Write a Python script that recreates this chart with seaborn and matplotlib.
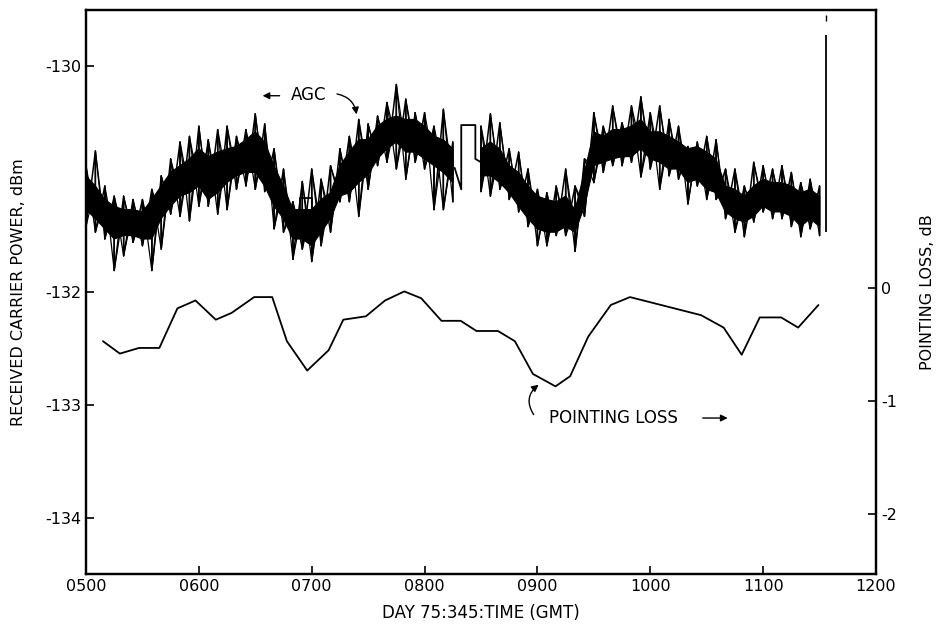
import numpy as np
import matplotlib
matplotlib.use("Agg")
import matplotlib.pyplot as plt
import seaborn as sns

# AGC trace, read every 5 minutes after 0500 GMT (dBm)
agc_minutes = np.arange(0, 395, 5)
agc_top = [-130.88, -130.75, -131.06, -131.15, -131.15, -131.18, -131.18, -131.09, -130.97, -130.82,
           -130.67, -130.62, -130.53, -130.65, -130.56, -130.53, -130.62, -130.56, -130.42, -130.51,
           -130.73, -130.91, -131.20, -131.02, -130.91, -131.00, -130.88, -130.73, -130.62, -130.47,
           -130.51, -130.44, -130.32, -130.16, -130.29, -130.41, -130.41, -130.53, -130.38, -130.67,
           np.nan, np.nan, -130.53, -130.42, -130.50, -130.73, -130.76, -130.91, -131.09, -131.12,
           -131.06, -130.91, -131.06, -130.82, -130.41, -130.53, -130.35, -130.50, -130.35, -130.27,
           -130.41, -130.35, -130.47, -130.53, -130.71, -130.67, -130.62, -130.65, -130.91, -130.91,
           -131.06, -130.85, -130.88, -130.91, -130.88, -130.94, -131.03, -131.00, -131.06]
agc_core_hi = [-130.97, -131.06, -131.18, -131.24, -131.27, -131.27, -131.29, -131.18, -131.06, -130.94,
               -130.88, -130.82, -130.73, -130.80, -130.76, -130.73, -130.71, -130.65, -130.58, -130.67,
               -130.88, -131.06, -131.27, -131.27, -131.27, -131.18, -131.12, -130.88, -130.76, -130.65,
               -130.65, -130.53, -130.47, -130.44, -130.47, -130.47, -130.53, -130.62, -130.65, -130.73,
               np.nan, np.nan, -130.73, -130.67, -130.73, -130.88, -130.94, -131.06, -131.15, -131.18,
               -131.20, -131.15, -131.27, -130.94, -130.58, -130.62, -130.56, -130.56, -130.53, -130.47,
               -130.58, -130.58, -130.62, -130.67, -130.73, -130.71, -130.76, -130.82, -131.06, -131.09,
               -131.15, -131.06, -131.00, -131.03, -131.03, -131.06, -131.12, -131.09, -131.15]
agc_core_lo = [-131.27, -131.35, -131.44, -131.53, -131.50, -131.50, -131.53, -131.53, -131.35, -131.24,
               -131.15, -131.12, -131.06, -131.18, -131.12, -131.03, -130.97, -130.94, -130.94, -131.06,
               -131.24, -131.35, -131.53, -131.53, -131.59, -131.47, -131.35, -131.15, -131.12, -131.03,
               -130.96, -130.82, -130.73, -130.67, -130.76, -130.76, -130.82, -130.88, -130.94, -131.03,
               np.nan, np.nan, -130.97, -130.97, -131.03, -131.12, -131.24, -131.35, -131.44, -131.47,
               -131.47, -131.42, -131.47, -131.24, -130.88, -130.85, -130.82, -130.80, -130.80, -130.73,
               -130.82, -130.85, -130.91, -130.91, -131.03, -131.00, -131.09, -131.12, -131.29, -131.35,
               -131.38, -131.33, -131.24, -131.29, -131.29, -131.33, -131.42, -131.35, -131.42]
agc_bottom = [-131.42, -131.47, -131.53, -131.81, -131.68, -131.56, -131.59, -131.81, -131.62, -131.31,
              -131.33, -131.37, -131.24, -131.24, -131.31, -131.27, -131.09, -131.06, -131.09, -131.11,
              -131.44, -131.47, -131.71, -131.62, -131.73, -131.59, -131.47, -131.20, -131.20, -131.33,
              -131.09, -130.88, -130.85, -130.91, -131.00, -130.85, -130.91, -131.27, -131.27, -131.20,
              np.nan, np.nan, -131.11, -131.15, -131.09, -131.18, -131.29, -131.42, -131.59, -131.59,
              -131.50, -131.50, -131.64, -131.33, -131.03, -130.94, -130.88, -130.88, -130.85, -130.98,
              -130.91, -131.09, -130.97, -131.00, -131.22, -131.06, -131.18, -131.18, -131.35, -131.47,
              -131.51, -131.38, -131.29, -131.35, -131.35, -131.42, -131.51, -131.44, -131.50]

# flat pieces and the end spike of the AGC record
agc_flat1_minutes = [114, 114, 120, 120]
agc_flat1_dbm = [-131.40, -131.17, -131.17, -131.40]
agc_flat2_minutes = [196, 199.5, 199.5, 207, 207, 210]
agc_flat2_dbm = [-130.90, -131.09, -130.52, -130.52, -130.82, -130.85]
agc_end_minutes = 393.5
agc_end_dbm = [-131.47, -129.72]

# pointing loss (dB), time in hours GMT
loss_hours = [5.15, 5.30, 5.47, 5.65, 5.81, 5.97, 6.15, 6.29, 6.49, 6.65, 6.78, 6.96,
              7.15, 7.28, 7.48, 7.65, 7.82, 7.97, 8.15, 8.32, 8.46, 8.65, 8.80, 8.96,
              9.16, 9.29, 9.45, 9.65, 9.82, 10.45, 10.65, 10.81, 10.97, 11.16, 11.31, 11.49]
loss_db = [-0.47, -0.58, -0.53, -0.53, -0.18, -0.11, -0.28, -0.22, -0.08, -0.08, -0.47, -0.73,
           -0.55, -0.28, -0.25, -0.11, -0.03, -0.09, -0.29, -0.29, -0.38, -0.38, -0.47, -0.76,
           -0.87, -0.78, -0.43, -0.15, -0.08, -0.24, -0.35, -0.59, -0.26, -0.26, -0.35, -0.15]

x_ticks = [5, 6, 7, 8, 9, 10, 11, 12]
x_ticklabels = ["0500", "0600", "0700", "0800", "0900", "1000", "1100", "1200"]
left_ticks = [-130, -132, -133, -134]
right_ticks = [0, -1, -2]

sns.set_style("ticks")
plt.rcParams["font.family"] = ["DejaVu Sans"]
plt.rcParams["text.color"] = "black"
plt.rcParams["axes.labelcolor"] = "black"

fig = plt.figure(figsize=(9.41, 6.24), dpi=100)
ax = fig.add_axes([86 / 941, 1 - 574 / 624, 790 / 941, 564 / 624])
ax2 = ax.twinx()

t = 5 + agc_minutes / 60
top = np.array(agc_top)
bot = np.array(agc_bottom)
hi = np.array(agc_core_hi)
lo = np.array(agc_core_lo)
ax.fill_between(t, lo, hi, color="black", lw=0.8)
# spikes drawn as zigzags through the read extremes
zig_t = np.repeat(t, 2)
ax.plot(zig_t, np.column_stack([top, bot]).ravel(), color="black", lw=1.1)
ax.plot(zig_t, np.column_stack([bot, top]).ravel(), color="black", lw=0.9)
ax.plot(zig_t, np.column_stack([hi, bot]).ravel(), color="black", lw=0.9)
ax.plot(zig_t, np.column_stack([lo, top]).ravel(), color="black", lw=0.9)
ax.plot(5 + np.array(agc_flat1_minutes) / 60, agc_flat1_dbm, color="black", lw=1.3)
ax.plot(5 + np.array(agc_flat2_minutes) / 60, agc_flat2_dbm, color="black", lw=1.3)
ax.vlines(5 + agc_end_minutes / 60, agc_end_dbm[0], agc_end_dbm[1], color="black", lw=1.3)
ax.vlines(5 + agc_end_minutes / 60, -129.6, -129.54, color="black", lw=1.0)

sns.lineplot(x=loss_hours, y=loss_db, ax=ax2, color="black", lw=1.3)

ax.set_xlim(5, 12)
ax.set_ylim(-134.5, -129.5)
ax2.set_ylim(-2.53, 2.46)

ax.set_xticks(x_ticks)
ax.set_xticklabels(x_ticklabels)
ax.set_yticks(left_ticks)
ax.set_yticklabels([str(v) for v in left_ticks])
ax2.set_yticks(right_ticks)
ax2.set_yticklabels(["0", "-1", "-2"])

for a in (ax, ax2):
    a.tick_params(direction="in", length=6, width=1.2, labelsize=11.5, colors="black")
    for s in a.spines.values():
        s.set_linewidth(1.6)
        s.set_color("black")

ax.set_xlabel("DAY 75:345:TIME (GMT)", fontsize=12, labelpad=7)
ax.set_ylabel("RECEIVED CARRIER POWER, dBm", fontsize=11.5, labelpad=14)
ax2.set_ylabel("POINTING LOSS, dB", fontsize=11.5, labelpad=17)

# annotations
ax.text(6.97, -130.25, "AGC", fontsize=12, ha="center", va="center")
ax.annotate("", xy=(6.54, -130.26), xytext=(6.74, -130.26),
            arrowprops=dict(arrowstyle="-|>", color="black", lw=1.0))
ax.annotate("", xy=(7.4, -130.45), xytext=(7.2, -130.24),
            arrowprops=dict(arrowstyle="-|>", color="black", lw=1.0,
                            connectionstyle="arc3,rad=-0.4"))
ax2.text(9.1, -1.15, "POINTING LOSS", fontsize=12, ha="left", va="center")
ax2.annotate("", xy=(10.71, -1.15), xytext=(10.44, -1.15),
             arrowprops=dict(arrowstyle="-|>", color="black", lw=1.0))
ax2.annotate("", xy=(9.03, -0.84), xytext=(8.98, -1.14),
             arrowprops=dict(arrowstyle="-|>", color="black", lw=1.0,
                             connectionstyle="arc3,rad=-0.5"))

fig.savefig("out.png", dpi=100)
